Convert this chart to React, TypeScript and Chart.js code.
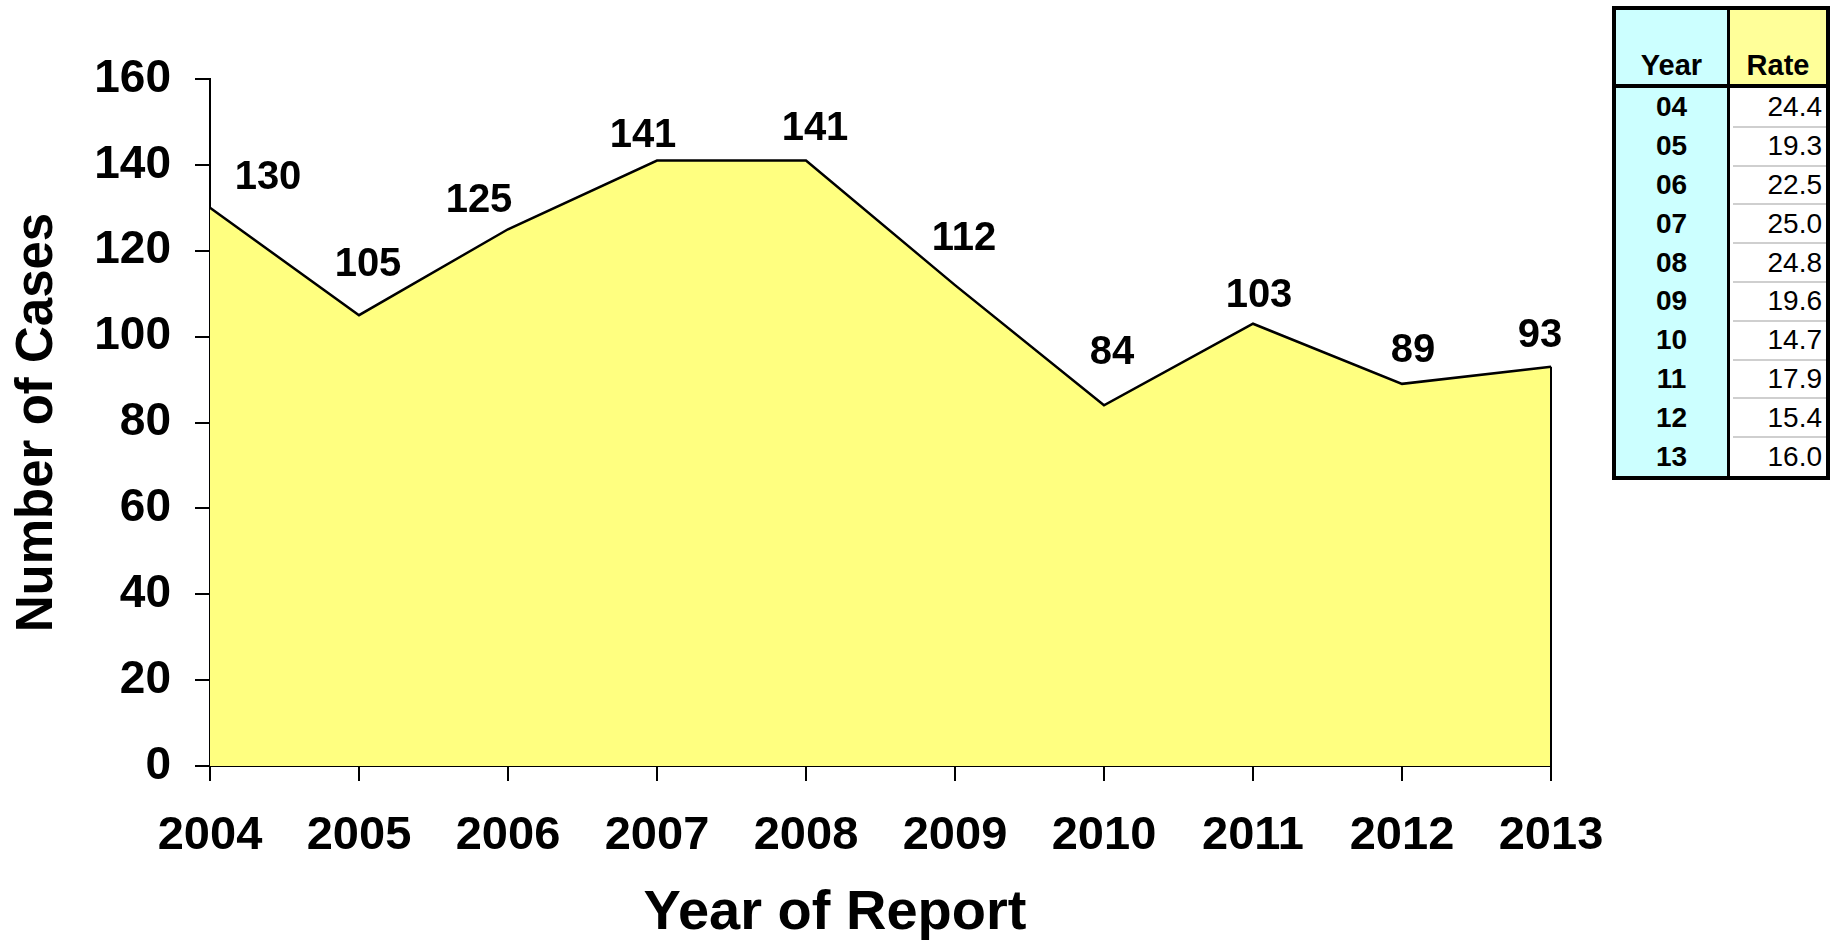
import React, { useEffect, useRef } from "react";
import { Chart, registerables } from "chart.js";

Chart.register(...registerables);

const years = ["2004", "2005", "2006", "2007", "2008", "2009", "2010", "2011", "2012", "2013"];
const cases = [130, 105, 125, 141, 141, 112, 84, 103, 89, 93];
const yTicks = [0, 20, 40, 60, 80, 100, 120, 140, 160];
const tableYears = ["04", "05", "06", "07", "08", "09", "10", "11", "12", "13"];
const tableRates = ["24.4", "19.3", "22.5", "25.0", "24.8", "19.6", "14.7", "17.9", "15.4", "16.0"];
// label shift relative to each point (px)
const labelShift: [number, number][] = [
  [58, -30], [9, -50], [-29, -28], [-14, -25], [9, -32],
  [9, -46], [8, -52], [6, -28], [11, -33], [-11, -31],
];

const FONT = '"Liberation Sans", Arial, sans-serif';

const overlayPlugin = {
  id: "overlay",
  afterDatasetsDraw(chart: any) {
    const { ctx, scales } = chart;
    const x = scales.x;
    const y = scales.y;
    ctx.save();
    const last = cases.length - 1;
    const xr = x.getPixelForValue(last);
    ctx.strokeStyle = "#000";
    ctx.lineWidth = 2;
    ctx.beginPath();
    ctx.moveTo(xr, y.getPixelForValue(cases[last]));
    ctx.lineTo(xr, y.getPixelForValue(0));
    ctx.stroke();

    ctx.fillStyle = "#000";
    ctx.font = `bold 40px ${FONT}`;
    ctx.textAlign = "center";
    ctx.textBaseline = "middle";
    cases.forEach((v, i) => {
      const px = x.getPixelForValue(i);
      const py = y.getPixelForValue(v);
      ctx.fillText(String(v), px + labelShift[i][0], py + labelShift[i][1]);
    });

    ctx.font = `bold 56px ${FONT}`;
    ctx.fillText("Year of Report", 835, 914);

    ctx.translate(38, (y.top + y.bottom) / 2);
    ctx.rotate(-Math.PI / 2);
    ctx.font = `bold 51px ${FONT}`;
    ctx.fillText("Number of Cases", 0, 0);
    ctx.restore();
  },
};

function RateTable() {
  const rowH = 38.8;
  return (
    <div
      style={{
        position: "absolute",
        left: 1612,
        top: 6,
        width: 218,
        height: 474,
        border: "4px solid #000",
        boxSizing: "border-box",
        background: "#fff",
        fontFamily: FONT,
        color: "#000",
      }}
    >
      <div style={{ position: "absolute", left: 0, top: 0, width: 111, height: 466, background: "#ccffff" }} />
      <div style={{ position: "absolute", left: 114, top: 0, right: 0, height: 74, background: "#ffff99" }} />
      <div style={{ position: "absolute", left: 111, top: 0, width: 3, height: 466, background: "#000" }} />
      <div style={{ position: "absolute", left: 0, top: 74, width: 210, height: 4, background: "#000" }} />
      <div
        style={{
          position: "absolute", left: 0, top: 0, width: 111, height: 74,
          display: "flex", alignItems: "flex-end", justifyContent: "center",
          fontSize: 29, fontWeight: "bold", lineHeight: "32px", paddingBottom: 3, boxSizing: "border-box",
        }}
      >
        Year
      </div>
      <div
        style={{
          position: "absolute", left: 114, top: 0, width: 96, height: 74,
          display: "flex", alignItems: "flex-end", justifyContent: "center",
          fontSize: 29, fontWeight: "bold", lineHeight: "32px", paddingBottom: 3, boxSizing: "border-box",
        }}
      >
        Rate
      </div>
      {tableYears.map((yr, i) => (
        <React.Fragment key={yr}>
          <div
            style={{
              position: "absolute", left: 0, top: 78 + i * rowH, width: 111, height: rowH,
              display: "flex", alignItems: "center", justifyContent: "center",
              fontSize: 28, fontWeight: "bold",
            }}
          >
            {yr}
          </div>
          {i > 0 && (
            <div style={{ position: "absolute", left: 117, right: 0, top: 78 + i * rowH - 1, height: 2, background: "#cfcfcf" }} />
          )}
          <div
            style={{
              position: "absolute", left: 114, top: 78 + i * rowH, width: 96, height: rowH,
              display: "flex", alignItems: "center", justifyContent: "flex-end",
              fontSize: 28, paddingRight: 4, boxSizing: "border-box",
            }}
          >
            {tableRates[i]}
          </div>
        </React.Fragment>
      ))}
    </div>
  );
}

export default function App() {
  const ref = useRef<HTMLCanvasElement | null>(null);
  useEffect(() => {
    if (!ref.current) return;
    const chart = new Chart(ref.current, {
      type: "line",
      data: {
        labels: years,
        datasets: [
          {
            data: cases,
            borderColor: "#000",
            borderWidth: 2.5,
            backgroundColor: "#ffff80",
            fill: "origin",
            tension: 0,
            pointRadius: 0,
          },
        ],
      },
      options: {
        animation: false,
        responsive: false,
        layout: { padding: { left: 0, top: 79, right: 284, bottom: 0 } },
        plugins: { legend: { display: false }, tooltip: { enabled: false }, title: { display: false } },
        scales: {
          x: {
            type: "category",
            offset: false,
            grid: { display: true, drawOnChartArea: false, drawTicks: true, tickLength: 15, color: "#000", lineWidth: 2 },
            border: { display: true, color: "#000", width: 2 },
            ticks: {
              color: "#000",
              font: { family: FONT, weight: "bold", size: 47 },
              padding: 27,
              maxRotation: 0,
              autoSkip: false,
            },
            afterFit: (s: any) => {
              s.height = 940 - 766;
            },
          },
          y: {
            min: 0,
            max: 160,
            afterBuildTicks: (s: any) => {
              s.ticks = yTicks.map((v) => ({ value: v }));
            },
            grid: { display: true, drawOnChartArea: false, drawTicks: true, tickLength: 15, color: "#000", lineWidth: 2 },
            border: { display: true, color: "#000", width: 2 },
            ticks: {
              color: "#000",
              font: { family: FONT, weight: "bold", size: 46 },
              padding: 24,
            },
            afterFit: (s: any) => {
              s.width = 210;
            },
          },
        },
      },
      plugins: [overlayPlugin],
    } as any);
    return () => chart.destroy();
  }, []);
  return (
    <div style={{ position: "absolute", left: 0, top: 0, width: 1835, height: 940, background: "#fff" }}>
      <canvas ref={ref} width={1835} height={940} style={{ width: 1835, height: 940, display: "block" }} />
      <RateTable />
    </div>
  );
}
